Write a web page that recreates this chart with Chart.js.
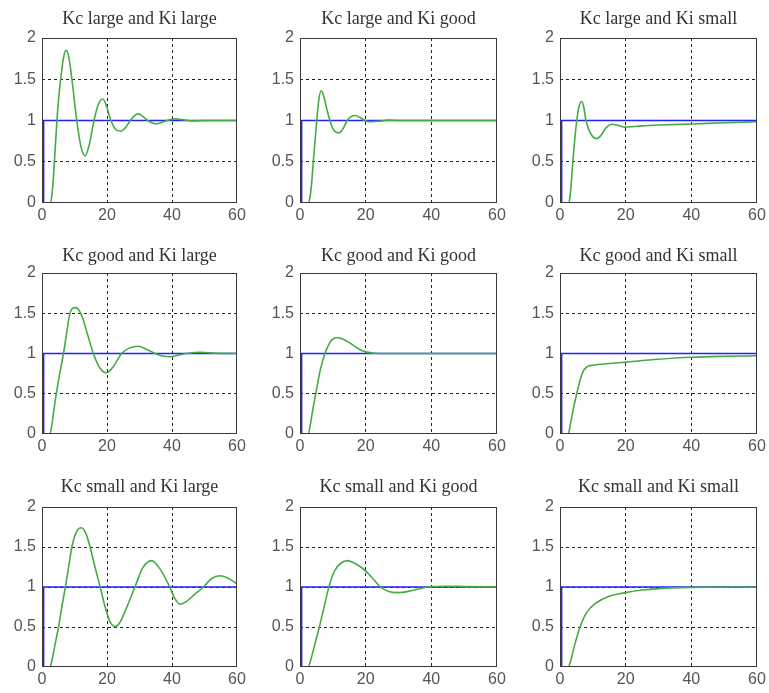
<!DOCTYPE html>
<html lang="en">
<head>
<meta charset="UTF-8">
<title>PI controller tuning</title>
<script src="https://cdn.jsdelivr.net/npm/chart.js@4.4.1/dist/chart.umd.min.js"></script>
<style>
  body { margin: 0; background: #fff; width: 769px; height: 693px; position: relative; overflow: hidden; }
  canvas { position: absolute; }
</style>
</head>
<body>
<script>
// titles, row by row
const titles = [
  'Kc large and Ki large', 'Kc large and Ki good', 'Kc large and Ki small',
  'Kc good and Ki large', 'Kc good and Ki good', 'Kc good and Ki small',
  'Kc small and Ki large', 'Kc small and Ki good', 'Kc small and Ki small'
];
const xTicks = [0, 20, 40, 60];
const yTicks = [0, 0.5, 1, 1.5, 2];

// set point step (blue), [t, y]
const setpoint = [[0, 0], [0.5, 0], [0.5, 1], [60, 1]];

// process responses (green), [t, y]
const resp1 = [[0,0],[2.5,0],[3,0.08],[3.5,0.3],[4,0.62],[4.6,1.0],[5.2,1.3],[5.9,1.55],[6.6,1.76],[7.4,1.85],
  [8.3,1.76],[9.2,1.5],[10.7,1.0],[12,0.68],[13.3,0.57],[14.6,0.72],[16,1.0],[17.3,1.19],[18.7,1.26],[19.9,1.17],
  [21,1.02],[22.5,0.9],[24.2,0.87],[25.8,0.92],[27.2,1.0],[28.5,1.06],[29.7,1.08],[31,1.05],[32.5,1.0],[34,0.97],
  [35.3,0.96],[37,0.98],[38.5,1.0],[41,1.02],[43.5,1.01],[46,0.995],[50,1.0],[55,1.0],[60,1.0]];
const resp2 = [[0,0],[2.5,0],[3,0.06],[3.5,0.22],[4.05,0.5],[5.1,1.0],[5.7,1.24],[6.4,1.36],[7.2,1.3],[8.1,1.15],
  [9.1,1.0],[10.3,0.88],[11.9,0.85],[13.1,0.9],[14.4,1.0],[15.6,1.05],[16.9,1.06],[18.5,1.03],[20,0.995],[21.5,0.985],
  [24,0.99],[27,1.005],[30,1.0],[60,1.0]];
const resp3 = [[0,0],[2.5,0],[3,0.06],[3.4,0.22],[3.9,0.5],[5.1,1.0],[5.8,1.17],[6.6,1.23],[7.3,1.15],[7.9,1.0],
  [9.5,0.83],[11.3,0.78],[12.5,0.82],[14,0.91],[15.9,0.955],[17.8,0.94],[19.8,0.92],[22,0.925],[25,0.935],[30,0.945],
  [40,0.958],[50,0.972],[60,0.985]];
const resp4 = [[0,0],[2.4,0],[3,0.1],[3.6,0.28],[4.4,0.5],[5.5,0.76],[6.6,1.0],[7.6,1.26],[8.5,1.48],[9.4,1.56],
  [10.5,1.57],[11.5,1.53],[12.5,1.44],[14,1.24],[15.8,1.0],[17.8,0.82],[19.9,0.76],[22,0.84],[24.5,1.0],[27,1.07],
  [29.7,1.09],[32.2,1.05],[34.8,1.0],[37,0.97],[39.4,0.96],[42,0.98],[44.5,1.0],[48.6,1.015],[53,1.005],[60,1.0]];
const resp5 = [[0,0],[2.5,0],[3,0.08],[3.8,0.28],[4.8,0.5],[6.2,0.8],[7.6,1.0],[9,1.13],[10,1.18],[11.3,1.195],
  [13,1.18],[15.2,1.13],[18.2,1.05],[20.3,1.017],[23,1.003],[26,1.0],[60,1.0]];
const resp6 = [[0,0],[2.5,0],[3.2,0.13],[4.1,0.32],[5.1,0.5],[6.2,0.68],[7.2,0.79],[8.4,0.84],[10,0.855],[15,0.875],
  [20,0.893],[30,0.928],[40,0.953],[50,0.965],[60,0.972]];
const resp7 = [[0,0],[2.4,0],[3,0.07],[4,0.28],[5.1,0.5],[6.1,0.75],[7.2,1.0],[8.2,1.25],[9.2,1.5],[10.5,1.68],
  [12.1,1.74],[13.5,1.67],[14.8,1.5],[16.3,1.25],[17.9,1.0],[19.5,0.74],[21,0.56],[22.5,0.506],[24,0.56],[26.2,0.76],
  [28.6,1.0],[31,1.24],[33.7,1.33],[36.4,1.22],[39.3,1.0],[40.8,0.86],[42.5,0.785],[44.5,0.82],[47,0.91],[49.7,1.0],
  [52,1.1],[54.7,1.14],[57.3,1.11],[60,1.04]];
const resp8 = [[0,0],[2.5,0],[3.2,0.08],[4.5,0.28],[5.9,0.5],[7.4,0.76],[8.8,1.0],[10.5,1.2],[12.5,1.3],[14.5,1.33],
  [16.5,1.3],[18.5,1.25],[20.3,1.19],[22.5,1.09],[24.5,1.0],[27,0.945],[29.9,0.93],[33,0.945],[36,0.975],[39,1.0],
  [44,1.01],[50,1.005],[60,1.0]];
const resp9 = [[0,0],[2.5,0],[3.2,0.07],[4.5,0.28],[6.1,0.5],[8.1,0.68],[11,0.8],[15,0.885],[20,0.93],[25,0.962],
  [30,0.98],[40,0.995],[50,1.0],[60,1.0]];
const responses = [resp1, resp2, resp3, resp4, resp5, resp6, resp7, resp8, resp9];

// canvas boxes: plot area lefts / widths per column, tops / heights per row
const colLeft = [2, 260, 520], colPlotW = [195, 197, 197];
const rowTop = [6, 243, 474], rowPlotH = [165, 161, 160], rowTitlePad = [8.4, 6.4, 9.4];
const yAxisW = 40, xAxisH = 24, padRight = 12;

// box round the plot area
const frame = {
  id: 'frame',
  afterDraw(chart) {
    const a = chart.chartArea, ctx = chart.ctx;
    ctx.save();
    ctx.strokeStyle = '#3a3a3a';
    ctx.lineWidth = 1;
    ctx.strokeRect(Math.round(a.left) + 0.5, Math.round(a.top) + 0.5,
      Math.round(a.right - a.left) - 1, Math.round(a.bottom - a.top) - 1);
    ctx.restore();
  }
};

const toXY = arr => arr.map(p => ({ x: p[0], y: p[1] }));

responses.forEach((resp, i) => {
  const r = Math.floor(i / 3), c = i % 3;
  const titleH = 21.6 + 2 + rowTitlePad[r];
  const cv = document.createElement('canvas');
  cv.width = yAxisW + colPlotW[c] + padRight;
  cv.height = Math.round(titleH + rowPlotH[r] + xAxisH);
  cv.style.left = colLeft[c] + 'px';
  cv.style.top = rowTop[r] + 'px';
  document.body.appendChild(cv);

  new Chart(cv.getContext('2d'), {
    type: 'line',
    data: {
      datasets: [{
        data: toXY(resp),
        borderColor: '#45ab45',
        borderWidth: 1.6,
        pointRadius: 0,
        cubicInterpolationMode: 'monotone',
        order: 1
      }, {
        data: toXY(setpoint),
        borderColor: '#2222ff',
        borderWidth: 1.5,
        pointRadius: 0,
        tension: 0,
        order: 2
      }]
    },
    options: {
      responsive: false,
      animation: false,
      devicePixelRatio: 1,
      layout: { padding: { left: 0, right: padRight, top: 0, bottom: 0 } },
      plugins: {
        legend: { display: false },
        tooltip: { enabled: false },
        title: {
          display: true,
          text: titles[i],
          fullSize: false,
          color: '#333',
          font: { family: 'Liberation Serif', size: 18, weight: 'normal', lineHeight: 1.2 },
          padding: { top: 2, bottom: rowTitlePad[r] }
        }
      },
      scales: {
        x: {
          type: 'linear',
          min: 0, max: 60,
          afterBuildTicks: s => { s.ticks = xTicks.map(v => ({ value: v })); },
          afterFit: s => { s.height = xAxisH; },
          ticks: {
            color: '#555', padding: 3, maxRotation: 0,
            font: { family: 'Liberation Sans', size: 16 },
            callback: v => String(v)
          },
          grid: {
            drawTicks: false, lineWidth: 1,
            color: ctx => (ctx.tick && (ctx.tick.value === 0 || ctx.tick.value === 60)) ? 'rgba(0,0,0,0)' : '#222'
          },
          border: { display: false, dash: [3, 3] }
        },
        y: {
          min: 0, max: 2,
          afterBuildTicks: s => { s.ticks = yTicks.map(v => ({ value: v })); },
          afterFit: s => { s.width = yAxisW; },
          ticks: {
            color: '#555', padding: 6,
            font: { family: 'Liberation Sans', size: 16 },
            callback: v => String(v)
          },
          grid: {
            drawTicks: false, lineWidth: 1,
            color: ctx => (ctx.tick && (ctx.tick.value === 0 || ctx.tick.value === 2)) ? 'rgba(0,0,0,0)' : '#222'
          },
          border: { display: false, dash: [3, 3] }
        }
      }
    },
    plugins: [frame]
  });
});
</script>
</body>
</html>
